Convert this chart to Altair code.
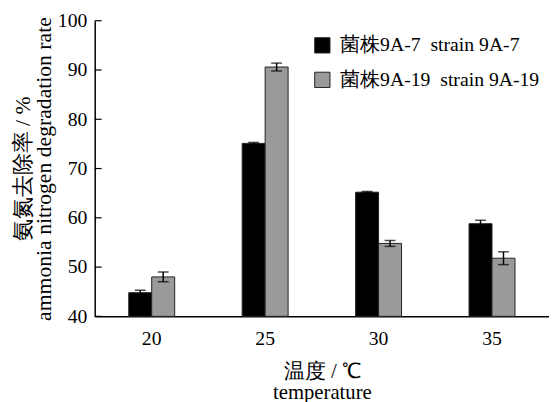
import altair as alt
import pandas as pd

temps = ["20", "25", "30", "35"]
strains = ["菌株9A-7\u00a0\u00a0strain 9A-7", "菌株9A-19\u00a0\u00a0strain 9A-19"]
s7 = [44.8, 75.1, 65.2, 58.8]
s7_err = [0.5, 0.2, 0.15, 0.7]
s19 = [48.0, 90.6, 54.8, 51.8]
s19_err = [1.0, 0.8, 0.6, 1.3]
y_ticks = [40, 50, 60, 70, 80, 90, 100]

rows = []
for i, t in enumerate(temps):
    rows.append({"t": t, "s": strains[0], "v": s7[i], "e": s7_err[i]})
    rows.append({"t": t, "s": strains[1], "v": s19[i], "e": s19_err[i]})
df = pd.DataFrame(rows)
df["lo"] = df["v"] - df["e"]
df["hi"] = df["v"] + df["e"]
df["base"] = 40

FONT = "Liberation Serif, Times New Roman, serif"

xscale = alt.Scale(domain=temps, paddingInner=0.595, paddingOuter=0.3)
yscale = alt.Scale(domain=[40, 100], nice=False, zero=False)
cscale = alt.Scale(domain=strains, range=["#000000", "#9a9a9a"])

x = alt.X("t:N", scale=xscale, sort=temps,
          axis=alt.Axis(title=["温度 / ℃", "temperature"], labelAngle=0, ticks=False,
                        labelPadding=13, titlePadding=12, domainColor="black",
                        domainWidth=1.5, labelFontSize=20, titleFontSize=21,
                        titleFont=FONT, labelFont=FONT, labelColor="black",
                        titleColor="black", titleFontWeight="normal", titleLineHeight=21))
xo = alt.XOffset("s:N", sort=strains, scale=alt.Scale(domain=strains, paddingInner=0, paddingOuter=0))

bars = alt.Chart(df).mark_bar(stroke="#222222", strokeWidth=1).encode(
    x=x,
    xOffset=xo,
    y=alt.Y("v:Q", scale=yscale,
            axis=alt.Axis(title=["氨氮去除率 / %", "ammonia nitrogen degradation rate"],
                          values=y_ticks, ticks=False, grid=False, labelPadding=8,
                          domainColor="black", domainWidth=1.5, labelFontSize=20,
                          titleFontSize=22, titleFont=FONT, labelFont=FONT,
                          labelColor="black", titleColor="black",
                          titleFontWeight="normal", titlePadding=2, titleLineHeight=21)),
    y2="base:Q",
    color=alt.Color("s:N", scale=cscale, sort=strains,
                    legend=alt.Legend(title=None, orient="none", legendX=221, legendY=15,
                                      symbolType="square", symbolSize=240,
                                      symbolStrokeColor="#222222", symbolStrokeWidth=1,
                                      labelFontSize=20, labelFont=FONT, labelColor="black",
                                      labelLimit=0, rowPadding=15, labelOffset=8)),
)

err = alt.Chart(df).mark_rule(color="black", strokeWidth=1.5).encode(
    x=alt.X("t:N", scale=xscale, sort=temps),
    xOffset=xo,
    y=alt.Y("lo:Q", scale=yscale),
    y2="hi:Q",
)
cap_hi = alt.Chart(df).mark_tick(color="black", thickness=1.5, size=11, orient="horizontal").encode(
    x=alt.X("t:N", scale=xscale, sort=temps), xOffset=xo, y=alt.Y("hi:Q", scale=yscale))
cap_lo = alt.Chart(df).mark_tick(color="black", thickness=1.5, size=11, orient="horizontal").encode(
    x=alt.X("t:N", scale=xscale, sort=temps), xOffset=xo, y=alt.Y("lo:Q", scale=yscale))

tick_df = pd.DataFrame({"y": y_ticks})
yt = alt.Chart(tick_df).mark_rule(color="black", strokeWidth=1.2).encode(
    y=alt.Y("y:Q", scale=yscale), x=alt.value(0), x2=alt.value(7))

chart = alt.layer(bars, err, cap_hi, cap_lo, yt).properties(
    width=461, height=300,
    autosize=alt.AutoSizeParams(type="none"),
    padding={"left": 88, "top": 10, "right": 0, "bottom": 84},
).configure(font=FONT).configure_view(stroke=None).configure_axis(grid=False)

chart.save("out.html", embed_options={"renderer": "svg", "actions": False})
